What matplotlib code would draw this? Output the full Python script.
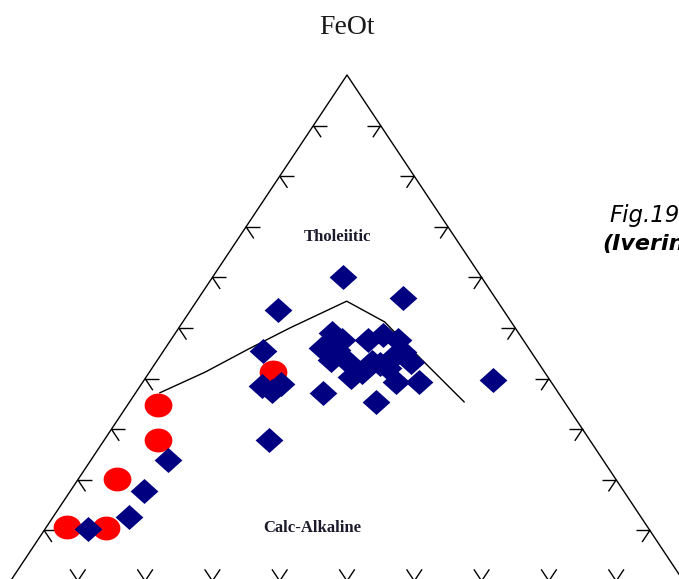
import numpy as np
import matplotlib
matplotlib.use("Agg")
import matplotlib.pyplot as plt

# AFM compositions (normalised %): A = Na2O+K2O, F = FeOt, M = MgO
red_A = [60.7, 64.2, 74.1, 86.2, 80.5, 40.4]
red_F = [34.8, 27.9, 20.2, 10.7, 10.5, 41.3]
red_M = [4.5, 7.9, 5.7, 3.1, 9.0, 18.3]

blue_A = [20.5, 33.5, 13.8, 39.7, 43.4, 40.3, 42.4, 47.6, 35.0, 28.0,
          23.0, 19.7, 8.5, 64.7, 71.3, 76.1, 83.3, 27.7, 30.7, 28.6,
          28.2, 29.2, 23.1, 24.6, 20.3, 18.6, 19.0, 21.2, 23.6, 26.9,
          30.6, 27.1, 22.8, 18.9]
blue_F = [60.1, 53.6, 55.9, 45.5, 38.5, 38.9, 37.5, 27.9, 37.2, 35.4,
          39.3, 39.3, 39.7, 23.9, 17.8, 12.6, 10.3, 49.0, 46.0, 45.7,
          43.3, 40.3, 47.6, 43.3, 48.6, 47.6, 45.3, 44.1, 42.9, 47.6,
          43.7, 41.3, 42.1, 43.3]
blue_M = [19.4, 12.9, 30.3, 14.8, 18.1, 20.8, 20.1, 24.5, 27.8, 36.6,
          37.7, 41.0, 51.8, 11.4, 10.9, 11.3, 6.4, 23.3, 23.3, 25.7,
          28.5, 30.5, 29.3, 32.1, 31.1, 33.8, 35.7, 34.7, 33.5, 25.5,
          25.7, 31.6, 35.1, 37.8]

# Tholeiitic / calc-alkaline dividing line
line_A = [59.2, 50.4, 41.8, 33.5, 22.4, 18.8, 17.6, 14.9]
line_F = [37.2, 41.3, 45.8, 50.0, 55.3, 51.2, 46.0, 35.4]
line_M = [3.6, 8.3, 12.4, 16.5, 22.3, 30.0, 36.4, 49.7]

tick_fracs = [i / 10 for i in range(1, 10)]


def to_xy(A, F, M):
    A, F, M = (np.asarray(v, float) for v in (A, F, M))
    tot = A + F + M
    f, m = F / tot, M / tot
    return m + f / 2.0, f


fig = plt.figure(figsize=(6.79, 5.79), dpi=100)
ax = fig.add_axes([0, 0, 1, 1])
ax.set_xlim(-10.5 / 673, (679 - 10.5) / 673)
ax.set_ylim(2 / 506, 581 / 506)
ax.axis("off")

# triangle outline
ax.plot([0, 0.5, 1, 0], [0, 1, 0, 0], color="black", lw=1.0, zorder=2)

# arrow-like ticks on the three sides
L = 14 / 607.7
hx = 14 / 673
kw = dict(color="black", lw=1.0, zorder=2, solid_capstyle="butt")
for t in tick_fracs:
    # left side
    x0, y0 = 0.5 * t, t
    ax.plot([x0, x0 + hx], [y0, y0], **kw)
    ax.plot([x0, x0 + 0.5 * L], [y0, y0 - L], **kw)
    # right side
    x1, y1 = 1 - 0.5 * t, t
    ax.plot([x1, x1 - hx], [y1, y1], **kw)
    ax.plot([x1, x1 - 0.5 * L], [y1, y1 - L], **kw)
    # base
    ax.plot([t - 0.5 * L, t, t + 0.5 * L], [L, 0, L], **kw)

# dividing line
lx, ly = to_xy(line_A, line_F, line_M)
ax.plot(lx, ly, color="black", lw=1.0, zorder=3)

# marker shapes
diamond = [(1, 0), (0, 0.9), (-1, 0), (0, -0.9), (1, 0)]
th = np.linspace(0, 2 * np.pi, 40)
ellipse = list(zip(np.cos(th), 0.86 * np.sin(th)))

rx, ry = to_xy(red_A, red_F, red_M)
ax.plot(rx, ry, linestyle="none", marker=ellipse, markersize=20,
        markerfacecolor="#ff0000", markeredgewidth=0, zorder=4)

bx, by = to_xy(blue_A, blue_F, blue_M)
ax.plot(bx, by, linestyle="none", marker=diamond, markersize=20,
        markerfacecolor="#000080", markeredgewidth=0, zorder=5)

# labels
ax.text(0.5, 1.093, "FeOt", ha="center", va="center",
        fontsize=20, family="Liberation Serif", color="#1a1a1a")
ax.text(0.4866, 0.680, "Tholeiitic", ha="center", va="center",
        fontsize=12, family="Liberation Serif", weight="bold", color="#1a1a2a")
ax.text(0.448, 0.1047, "Calc-Alkaline", ha="center", va="center",
        fontsize=12, family="Liberation Serif", weight="bold", color="#1a1a2a")

fig.text(609 / 679, 1 - 222 / 579, "Fig.19", fontsize=16.5,
         family="DejaVu Sans", style="italic", color="black",
         ha="left", va="baseline")
fig.text(602 / 679, 1 - 250 / 579, "(Iverin", fontsize=16,
         family="DejaVu Sans", style="italic", weight="bold", color="black",
         ha="left", va="baseline")

fig.savefig("out.png", dpi=100)
